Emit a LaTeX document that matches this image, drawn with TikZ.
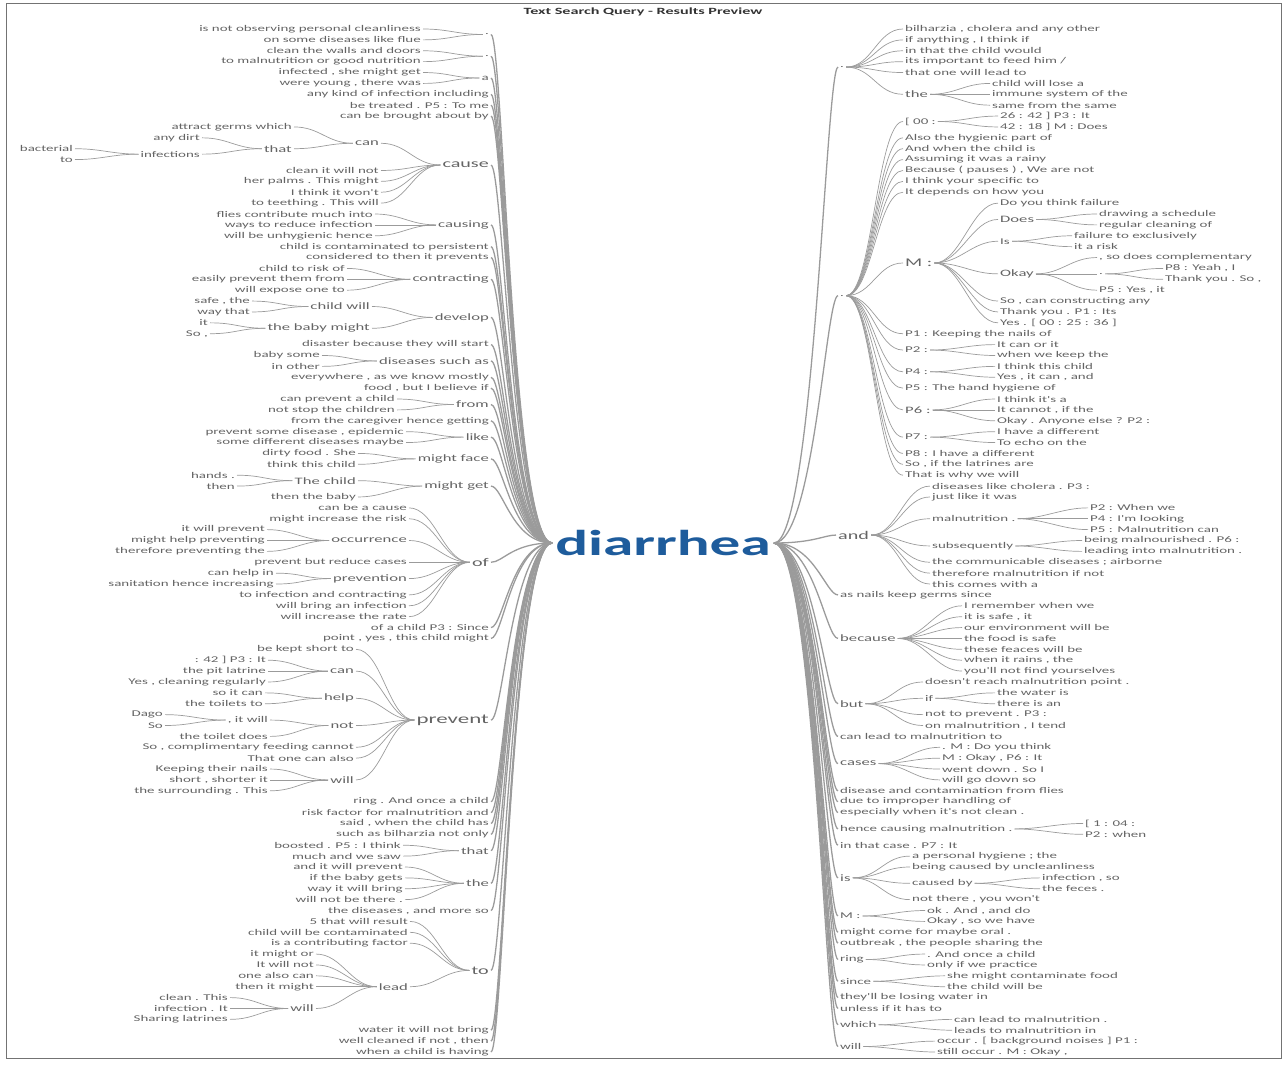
\documentclass[tikz,border=0pt]{standalone}
\usepackage{fontspec}
\newfontfamily\wtfont[FakeStretch=1.7]{Carlito}
\definecolor{wttext}{RGB}{100,100,100}
\definecolor{wtline}{RGB}{155,155,155}
\definecolor{wtblue}{RGB}{30,92,156}
\begin{document}
\begin{tikzpicture}[
    x=1pt, y=-10.883pt,
    wt word/.style={
        font=\wtfont\fontsize{#1}{#1}\selectfont,
        text=wttext,
        inner xsep=2pt,
        inner ysep=0pt
    },
    wt word/.default=8.8,
    wt root/.style={
        font=\wtfont\bfseries\fontsize{36}{42}\selectfont,
        text=wtblue,
        inner sep=3pt
    },
    wt link/.style={
        draw=wtline,
        line width=0.7pt,
        out=0, in=180,
        out distance=26pt, in distance=26pt
    },
    wt trunk left/.style={wt link, line width=1.3pt, out distance=12pt, in distance=40pt},
    wt trunk right/.style={wt link, line width=1.3pt, out distance=40pt, in distance=12pt}
]
    \useasboundingbox (0,-2.6647) rectangle (1283,95.378);
    \draw[draw=black!55, line width=1pt] (6,-2.297) rectangle (1281,94.64);
    \node[font=\wtfont\bfseries\fontsize{9.5}{10}\selectfont, text=black!80] (title)
        at (643,-1.56) {Text Search Query - Results Preview};

    \node[wt root] (root) at (663,47.23) {diarrhea};

    % Linke Seite: innere Knoten (Zeile = Mitte ihrer Blaetter)
    \foreach \nm/\xp/\rw/\fs/\tx in {
        lDotA/491/0.5/8.8/{.}, lDotB/491/2.5/8.8/{.}, lA/491/4.5/8.8/{a},
        lCause/491/12.5/11.8/{cause}, lCan/381/10.5/9.8/{can},
        lThat/294/11/9.8/{that}, lInfections/202/11.5/8.8/{infections},
        lCausing/491/18/9.8/{causing}, lContracting/491/23/9.8/{contracting},
        lDevelop/491/26.5/9.8/{develop}, lChildWill/372/25.5/9.8/{child will},
        lBabyMight/372/27.5/9.8/{the baby might},
        lSuchAs/491/30.5/9.8/{diseases such as}, lFrom/491/34.5/9.8/{from},
        lLike/491/37.5/9.8/{like}, lFace/491/39.5/9.8/{might face},
        lGet/491/42/9.8/{might get}, lTheChild/358/41.5/9.8/{The child},
        lOf/491/49/11.8/{of}, lOccur/409/47/9.8/{occurrence},
        lPrevention/409/50.5/9.8/{prevention},
        lPrevent/491/63.5/13.5/{prevent}, lPCan/356/59/9.8/{can},
        lHelp/356/61.5/9.8/{help}, lNot/356/64/9.8/{not},
        lItWill/270/63.5/8.8/{, it will}, lPWill/356/69/9.8/{will},
        lThat2/491/75.5/9.8/{that}, lThe/491/78.5/9.8/{the},
        lTo/491/86.5/11.8/{to}, lLead/410/88/9.8/{lead}, lLWill/316/90/9.8/{will}
    }
        \node[wt word=\fs, anchor=east] (\nm) at (\xp,\rw) {\tx};

    % Rechte Seite: innere Knoten
    \foreach \nm/\xp/\rw/\fs/\tx in {
        rDotA/838/3.5/8.8/{.}, rThe/903/6/9.8/{the},
        rDotB/838/24.5/8.8/{.}, rOO/903/8.5/8.8/{[ 00 :},
        rM/903/21.5/11.8/{M :}, rDoes/998/17.5/9.8/{Does},
        rMIs/998/19.5/8.8/{Is}, rOkay/998/22.5/9.8/{Okay},
        rOkayDot/1097/22.5/8.8/{.}, rP2/903/29.5/8.8/{P2 :},
        rP4/903/31.5/8.8/{P4 :}, rP6/903/35/9.8/{P6 :}, rP7/903/37.5/8.8/{P7 :},
        rAnd/836/46.5/11.8/{and}, rMaln/930/45/8.8/{malnutrition .},
        rSubs/930/47.5/8.8/{subsequently}, rBecause/838/56/9.8/{because},
        rBut/838/62/9.8/{but}, rIf/923/61.5/8.8/{if},
        rCases/838/67.5/9.8/{cases},
        rHence/838/73.5/8.8/{hence causing malnutrition .},
        rIsB/838/78/9.8/{is}, rCausedBy/910/78.5/8.8/{caused by},
        rM2/838/81.5/8.8/{M :}, rRing/838/85.5/8.8/{ring},
        rSince/838/87.5/8.8/{since}, rWhich/838/91.5/8.8/{which},
        rWill/838/93.5/8.8/{will}
    }
        \node[wt word=\fs, anchor=west] (\nm) at (\xp,\rw) {\tx};

    % Blaetter links, die direkt an der Wurzel haengen
    \foreach \rw/\tx in {
        6/{any kind of infection including}, 7/{be treated . P5 : To me},
        8/{can be brought about by}, 20/{child is contaminated to persistent},
        21/{considered to then it prevents}, 29/{disaster because they will start},
        32/{everywhere , as we know mostly}, 33/{food , but I believe if},
        36/{from the caregiver hence getting}, 55/{of a child P3 : Since},
        56/{point , yes , this child might}, 71/{ring . And once a child},
        72/{risk factor for malnutrition and}, 73/{said , when the child has},
        74/{such as bilharzia not only}, 81/{the diseases , and more so},
        92/{water it will not bring}, 93/{well cleaned if not , then},
        94/{when a child is having}
    } {
        \node[wt word, anchor=east] (l\rw) at (491,\rw) {\tx};
        \draw[wt trunk left] (l\rw.east) to (root.west);
    }

    % Blaetter links unter inneren Knoten
    \foreach \rw/\xp/\pa/\tx in {
        0/423/lDotA/{is not observing personal cleanliness},
        1/423/lDotA/{on some diseases like flue},
        2/423/lDotB/{clean the walls and doors},
        3/423/lDotB/{to malnutrition or good nutrition},
        4/423/lA/{infected , she might get}, 5/423/lA/{were young , there was},
        9/294/lCan/{attract germs which}, 10/202/lThat/{any dirt},
        11/75/lInfections/{bacterial}, 12/75/lInfections/{to},
        13/381/lCause/{clean it will not}, 14/381/lCause/{her palms . This might},
        15/381/lCause/{I think it won't}, 16/381/lCause/{to teething . This will},
        17/375/lCausing/{flies contribute much into},
        18/375/lCausing/{ways to reduce infection},
        19/375/lCausing/{will be unhygienic hence},
        22/347/lContracting/{child to risk of},
        23/347/lContracting/{easily prevent them from},
        24/347/lContracting/{will expose one to},
        25/252/lChildWill/{safe , the}, 26/252/lChildWill/{way that},
        27/210/lBabyMight/{it}, 28/210/lBabyMight/{So ,},
        30/322/lSuchAs/{baby some}, 31/322/lSuchAs/{in other},
        34/397/lFrom/{can prevent a child}, 35/397/lFrom/{not stop the children},
        37/406/lLike/{prevent some disease , epidemic},
        38/406/lLike/{some different diseases maybe},
        39/358/lFace/{dirty food . She}, 40/358/lFace/{think this child},
        41/237/lTheChild/{hands .}, 42/237/lTheChild/{then},
        43/358/lGet/{then the baby},
        44/409/lOf/{can be a cause}, 45/409/lOf/{might increase the risk},
        46/267/lOccur/{it will prevent}, 47/267/lOccur/{might help preventing},
        48/267/lOccur/{therefore preventing the},
        49/409/lOf/{prevent but reduce cases},
        50/276/lPrevention/{can help in},
        51/276/lPrevention/{sanitation hence increasing},
        52/409/lOf/{to infection and contracting},
        53/409/lOf/{will bring an infection}, 54/409/lOf/{will increase the rate},
        57/356/lPrevent/{be kept short to},
        58/268/lPCan/{: 42 ] P3 : It}, 59/268/lPCan/{the pit latrine},
        60/268/lPCan/{Yes , cleaning regularly},
        61/265/lHelp/{so it can}, 62/265/lHelp/{the toilets to},
        63/165/lItWill/{Dago}, 64/165/lItWill/{So},
        65/270/lNot/{the toilet does},
        66/356/lPrevent/{So , complimentary feeding cannot},
        67/356/lPrevent/{That one can also},
        68/270/lPWill/{Keeping their nails}, 69/270/lPWill/{short , shorter it},
        70/270/lPWill/{the surrounding . This},
        75/403/lThat2/{boosted . P5 : I think}, 76/403/lThat2/{much and we saw},
        77/405/lThe/{and it will prevent}, 78/405/lThe/{if the baby gets},
        79/405/lThe/{way it will bring}, 80/405/lThe/{will not be there .},
        82/410/lTo/{5 that will result}, 83/410/lTo/{child will be contaminated},
        84/410/lTo/{is a contributing factor},
        85/316/lLead/{it might or}, 86/316/lLead/{It will not},
        87/316/lLead/{one also can}, 88/316/lLead/{then it might},
        89/230/lLWill/{clean . This}, 90/230/lLWill/{infection . It},
        91/230/lLWill/{Sharing latrines}
    } {
        \node[wt word, anchor=east] (l\rw) at (\xp,\rw) {\tx};
        \draw[wt link] (l\rw.east) to (\pa.west);
    }

    % Blaetter rechts, die direkt an der Wurzel haengen
    \foreach \rw/\tx in {
        52/{as nails keep germs since}, 65/{can lead to malnutrition to},
        70/{disease and contamination from flies}, 71/{due to improper handling of},
        72/{especially when it's not clean .}, 75/{in that case . P7 : It},
        83/{might come for maybe oral .}, 84/{outbreak , the people sharing the},
        89/{they'll be losing water in}, 90/{unless if it has to}
    } {
        \node[wt word, anchor=west] (r\rw) at (838,\rw) {\tx};
        \draw[wt trunk right] (root.east) to (r\rw.west);
    }

    % Blaetter rechts unter inneren Knoten
    \foreach \rw/\xp/\pa/\tx in {
        0/903/rDotA/{bilharzia , cholera and any other},
        1/903/rDotA/{if anything , I think if},
        2/903/rDotA/{in that the child would},
        3/903/rDotA/{its important to feed him /},
        4/903/rDotA/{that one will lead to},
        5/990/rThe/{child will lose a}, 6/990/rThe/{immune system of the},
        7/990/rThe/{same from the same},
        8/998/rOO/{26 : 42 ] P3 : It}, 9/998/rOO/{42 : 18 ] M : Does},
        10/903/rDotB/{Also the hygienic part of},
        11/903/rDotB/{And when the child is},
        12/903/rDotB/{Assuming it was a rainy},
        13/903/rDotB/{Because ( pauses ) , We are not},
        14/903/rDotB/{I think your specific to},
        15/903/rDotB/{It depends on how you},
        16/998/rM/{Do you think failure},
        17/1097/rDoes/{drawing a schedule}, 18/1097/rDoes/{regular cleaning of},
        19/1072/rMIs/{failure to exclusively}, 20/1072/rMIs/{it a risk},
        21/1097/rOkay/{, so does complementary},
        22/1163/rOkayDot/{P8 : Yeah , I}, 23/1163/rOkayDot/{Thank you . So ,},
        24/1097/rOkay/{P5 : Yes , it},
        25/998/rM/{So , can constructing any}, 26/998/rM/{Thank you . P1 : Its},
        27/998/rM/{Yes . [ 00 : 25 : 36 ]},
        28/903/rDotB/{P1 : Keeping the nails of},
        29/995/rP2/{It can or it}, 30/995/rP2/{when we keep the},
        31/995/rP4/{I think this child}, 32/995/rP4/{Yes , it can , and},
        33/903/rDotB/{P5 : The hand hygiene of},
        34/995/rP6/{I think it's a}, 35/995/rP6/{It cannot , if the},
        36/995/rP6/{Okay . Anyone else ? P2 :},
        37/995/rP7/{I have a different}, 38/995/rP7/{To echo on the},
        39/903/rDotB/{P8 : I have a different},
        40/903/rDotB/{So , if the latrines are},
        41/903/rDotB/{That is why we will},
        42/930/rAnd/{diseases like cholera . P3 :}, 43/930/rAnd/{just like it was},
        44/1088/rMaln/{P2 : When we}, 45/1088/rMaln/{P4 : I'm looking},
        46/1088/rMaln/{P5 : Malnutrition can},
        47/1082/rSubs/{being malnourished . P6 :},
        48/1082/rSubs/{leading into malnutrition .},
        49/930/rAnd/{the communicable diseases ; airborne},
        50/930/rAnd/{therefore malnutrition if not},
        51/930/rAnd/{this comes with a},
        53/962/rBecause/{I remember when we}, 54/962/rBecause/{it is safe , it},
        55/962/rBecause/{our environment will be}, 56/962/rBecause/{the food is safe},
        57/962/rBecause/{these feaces will be}, 58/962/rBecause/{when it rains , the},
        59/962/rBecause/{you'll not find yourselves},
        60/923/rBut/{doesn't reach malnutrition point .},
        61/995/rIf/{the water is}, 62/995/rIf/{there is an},
        63/923/rBut/{not to prevent . P3 :}, 64/923/rBut/{on malnutrition , I tend},
        66/940/rCases/{. M : Do you think}, 67/940/rCases/{M : Okay , P6 : It},
        68/940/rCases/{went down . So I}, 69/940/rCases/{will go down so},
        73/1083/rHence/{[ 1 : 04 :}, 74/1083/rHence/{P2 : when},
        76/910/rIsB/{a personal hygiene ; the},
        77/910/rIsB/{being caused by uncleanliness},
        78/1040/rCausedBy/{infection , so}, 79/1040/rCausedBy/{the feces .},
        80/910/rIsB/{not there , you won't},
        81/925/rM2/{ok . And , and do}, 82/925/rM2/{Okay , so we have},
        85/925/rRing/{. And once a child}, 86/925/rRing/{only if we practice},
        87/945/rSince/{she might contaminate food}, 88/945/rSince/{the child will be},
        91/952/rWhich/{can lead to malnutrition .},
        92/952/rWhich/{leads to malnutrition in},
        93/935/rWill/{occur . [ background noises ] P1 :},
        94/935/rWill/{still occur . M : Okay ,}
    } {
        \node[wt word, anchor=west] (r\rw) at (\xp,\rw) {\tx};
        \draw[wt link] (\pa.east) to (r\rw.west);
    }

    % Verbindungen der inneren Knoten
    \foreach \nm in {lDotA,lDotB,lA,lCause,lCausing,lContracting,lDevelop,lSuchAs,
                     lFrom,lLike,lFace,lGet,lOf,lPrevent,lThat2,lThe,lTo}
        \draw[wt trunk left] (\nm.east) to (root.west);
    \foreach \nm/\pa in {lCan/lCause,lThat/lCan,lInfections/lThat,lChildWill/lDevelop,
                         lBabyMight/lDevelop,lTheChild/lGet,lOccur/lOf,lPrevention/lOf,
                         lPCan/lPrevent,lHelp/lPrevent,lNot/lPrevent,lItWill/lNot,
                         lPWill/lPrevent,lLead/lTo,lLWill/lLead}
        \draw[wt link] (\nm.east) to (\pa.west);
    \foreach \nm in {rDotA,rDotB,rAnd,rBecause,rBut,rCases,rHence,rIsB,rM2,rRing,
                     rSince,rWhich,rWill}
        \draw[wt trunk right] (root.east) to (\nm.west);
    \foreach \nm/\pa in {rThe/rDotA,rOO/rDotB,rM/rDotB,rDoes/rM,rMIs/rM,rOkay/rM,
                         rOkayDot/rOkay,rP2/rDotB,rP4/rDotB,rP6/rDotB,rP7/rDotB,
                         rMaln/rAnd,rSubs/rAnd,rIf/rBut,rCausedBy/rIsB}
        \draw[wt link] (\pa.east) to (\nm.west);
\end{tikzpicture}
\end{document}
